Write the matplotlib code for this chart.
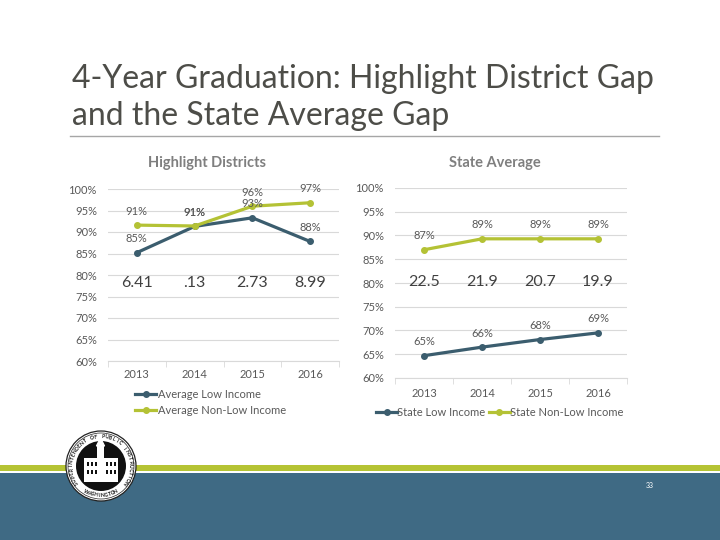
import matplotlib
matplotlib.use('Agg')
import matplotlib.pyplot as plt
from matplotlib.patches import Rectangle, Circle
import numpy as np

plt.rcParams['font.family'] = ['Lato', 'DejaVu Sans']

# ---------------- data ----------------
years = ['2013', '2014', '2015', '2016']
yticks = [60, 65, 70, 75, 80, 85, 90, 95, 100]

district_low = [85.2, 91.3, 93.3, 87.8]
district_nonlow = [91.6, 91.4, 96.0, 96.8]
district_low_labels = ['85%', '91%', '93%', '88%']
district_nonlow_labels = ['91%', '91%', '96%', '97%']
district_gap = ['6.41', '.13', '2.73', '8.99']

state_low = [64.7, 66.5, 68.1, 69.5]
state_nonlow = [87.0, 89.3, 89.3, 89.3]
state_low_labels = ['65%', '66%', '68%', '69%']
state_nonlow_labels = ['87%', '89%', '89%', '89%']
state_gap = ['22.5', '21.9', '20.7', '19.9']

main_title = ['4-Year Graduation: Highlight District Gap', 'and the State Average Gap']
left_title = 'Highlight Districts'
right_title = 'State Average'
left_series = ['Average Low Income', 'Average Non-Low Income']
right_series = ['State Low Income', 'State Non-Low Income']
slide_no = '33'

# ---------------- style ----------------
C_LOW = '#3b5d6e'
C_NON = '#b4c235'
C_GRID = '#d9d9d9'
C_TXT = '#595959'
C_BLUE = '#3f6a84'
C_GREEN = '#b5c334'

W, H = 720, 540
fig = plt.figure(figsize=(7.2, 5.4), dpi=100)

def fx(px):
    return px / W

def fy(py):
    return 1 - py / H

# background axes in pixel coordinates
bg = fig.add_axes([0, 0, 1, 1], zorder=0)
bg.set_xlim(0, W)
bg.set_ylim(H, 0)
bg.axis('off')
bg.add_patch(Rectangle((0, 465), W, 6, color=C_GREEN, lw=0))
bg.add_patch(Rectangle((0, 473), W, 67, color=C_BLUE, lw=0))
bg.plot([70, 659], [136, 136], color='#a6a6a6', lw=1)

# seal
cx, cy = 101, 466
bg.add_patch(Circle((cx, cy), 35, facecolor='white', edgecolor='#222222', lw=0.9, zorder=3))
bg.add_patch(Circle((cx, cy), 33, facecolor='none', edgecolor='#222222', lw=0.5, zorder=3))
bg.add_patch(Circle((cx, cy), 25, facecolor='#111111', edgecolor='none', zorder=3))
bg.add_patch(Rectangle((84, 458), 34, 24, facecolor='white', edgecolor='none', zorder=4))
bg.add_patch(Rectangle((97, 446), 7, 12, facecolor='white', edgecolor='none', zorder=4))
bg.fill([96.5, 100.5, 104.5], [446, 438, 446], color='white', zorder=4)
for wx in [87, 91, 95, 106, 110, 114]:
    for wy in [462, 470]:
        bg.add_patch(Rectangle((wx, wy), 2, 4, facecolor='#111111', edgecolor='none', zorder=5))
ring_top = 'SUPERINTENDENT OF PUBLIC INSTRUCTION'
angs = np.linspace(215, -35, len(ring_top))
for ch, a in zip(ring_top, angs):
    r = np.radians(a)
    bg.text(cx + 29.5 * np.cos(r), cy - 29.5 * np.sin(r), ch, rotation=a - 90,
            ha='center', va='center', fontsize=3.6, color='#111111', zorder=6,
            fontweight='bold')
ring_bot = 'WASHINGTON'
angs = np.linspace(240, 300, len(ring_bot))
for ch, a in zip(ring_bot, angs):
    r = np.radians(a)
    bg.text(cx + 29.5 * np.cos(r), cy - 29.5 * np.sin(r), ch, rotation=a + 90,
            ha='center', va='center', fontsize=3.6, color='#111111', zorder=6,
            fontweight='bold')

fig.text(fx(650), fy(485), slide_no, color='white', fontsize=5, ha='center', va='center')

# title
fig.text(fx(72), fy(88), main_title[0], fontsize=23, color='#4d4d48', va='baseline',
         ha='left', fontweight='normal')
fig.text(fx(72), fy(125), main_title[1], fontsize=23, color='#4d4d48', va='baseline',
         ha='left', fontweight='normal')


def style_axes(ax, pad):
    x = np.arange(len(years))
    ax.set_xlim(-0.5, len(years) - 0.5)
    ax.set_ylim(60, 100)
    ax.set_yticks(yticks)
    ax.set_yticklabels([f'{v}%' for v in yticks])
    ax.set_xticks(x)
    ax.set_xticklabels(years)
    ax.set_xticks(np.arange(-0.5, len(years)), minor=True)
    ax.tick_params(axis='x', which='major', length=0, pad=pad, labelsize=8, labelcolor=C_TXT)
    ax.tick_params(axis='x', which='minor', length=4, color=C_GRID, direction='out')
    ax.tick_params(axis='y', length=0, pad=8, labelsize=8, labelcolor=C_TXT)
    for s in ['top', 'right', 'left']:
        ax.spines[s].set_visible(False)
    ax.spines['bottom'].set_color(C_GRID)
    ax.grid(axis='y', color=C_GRID, lw=0.8)
    ax.set_axisbelow(True)
    ax.set_facecolor('none')
    return x


def draw(ax, low, non, low_lab, non_lab, gap, gap_y, names):
    x = np.arange(len(years))
    l1, = ax.plot(x, low, color=C_LOW, lw=2.3, marker='o', ms=4, label=names[0], zorder=3)
    l2, = ax.plot(x, non, color=C_NON, lw=2.3, marker='o', ms=4, label=names[1], zorder=3)
    for xi, v, t in zip(x, low, low_lab):
        ax.annotate(t, (xi, v), xytext=(0, 10), textcoords='offset points',
                    ha='center', va='center', fontsize=8, color=C_TXT)
    for xi, v, t in zip(x, non, non_lab):
        ax.annotate(t, (xi, v), xytext=(0, 10), textcoords='offset points',
                    ha='center', va='center', fontsize=8, color=C_TXT)
    for xi, t in zip(x, gap):
        ax.text(xi, gap_y, t, ha='center', va='center', fontsize=11.5, color='#404040')
    return l1, l2


# left chart
axL = fig.add_axes([fx(108), fy(361), fx(339 - 108), (361 - 189) / H], zorder=1)
style_axes(axL, 6)
hl = draw(axL, district_low, district_nonlow, district_low_labels, district_nonlow_labels,
          district_gap, 78.2, left_series)
fig.text(fx(207), fy(163), left_title, ha='center', va='center', fontsize=10.5,
         fontweight='bold', color='#7f7f7f')
fig.legend(handles=list(hl), loc='upper left', bbox_to_anchor=(fx(135), fy(389)),
           frameon=False, fontsize=8, handlelength=1.9, handletextpad=0.15,
           labelspacing=0.45, borderpad=0, borderaxespad=0, labelcolor=C_TXT)

# right chart
axR = fig.add_axes([fx(395), fy(378), fx(627 - 395), (378 - 188) / H], zorder=1)
style_axes(axR, 7)
hr = draw(axR, state_low, state_nonlow, state_low_labels, state_nonlow_labels,
          state_gap, 80.2, right_series)
fig.text(fx(495), fy(163), right_title, ha='center', va='center', fontsize=10.5,
         fontweight='bold', color='#7f7f7f')
fig.legend(handles=list(hr), loc='upper left', bbox_to_anchor=(fx(376), fy(407)),
           frameon=False, fontsize=8, handlelength=1.9, handletextpad=0.0, ncol=2,
           columnspacing=0.3, borderpad=0, borderaxespad=0, labelcolor=C_TXT)

fig.savefig('out.png', dpi=100)
